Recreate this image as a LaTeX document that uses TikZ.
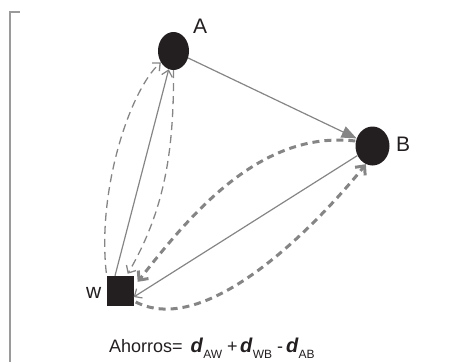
\documentclass[tikz,border=0pt]{standalone}
\usepackage{fontspec}
\setmainfont{Liberation Sans}
\usetikzlibrary{arrows.meta,shapes.geometric,calc}
\definecolor{ln}{HTML}{858585}
\definecolor{nd}{HTML}{231F20}
\definecolor{fr}{HTML}{9A9A9A}
\newcommand\subtxt[1]{\raisebox{-6pt}{\fontsize{12}{12}\selectfont #1}}
\newcommand\dd{{\fontsize{20}{20}\selectfont\textbf{\textit{d}}}}
\begin{document}
\begin{tikzpicture}[x=1pt,y=-1pt,
  dot/.style={ellipse,fill=nd,inner sep=0pt},
  depot/.style={rectangle,fill=nd,inner sep=0pt,minimum width=27pt,minimum height=30pt},
  lbl/.style={font=\fontsize{21}{21}\selectfont,text=nd,inner sep=0pt,anchor=base west},
  solidline/.style={draw=ln,line width=1.2pt},
  barb/.style={-{Straight Barb[length=6pt,width=11pt]}},
  thinarc/.style={draw=ln,line width=1.3pt,dash pattern=on 8pt off 5pt,barb},
  thickarc/.style={draw=ln,line width=3pt,dash pattern=on 7pt off 5pt,-{Straight Barb[length=7pt,width=13pt]}},
  frame/.style={draw=fr,line width=1.5pt}]
\useasboundingbox (0,0) rectangle (471,362);
\coordinate (f1) at (20,12);
\coordinate (f2) at (10,12);
\coordinate (f3) at (10,362);
\draw[frame] (f1) -- (f2) -- (f3);

\node[dot,minimum width=31pt,minimum height=38pt] (A) at (173.5,51) {};
\node[dot,minimum width=34pt,minimum height=39pt] (B) at (372.5,146) {};
\node[depot] (W) at (120,291) {};

\node[lbl] (la) at (193,33) {A};
\node[lbl] (lb) at (396,151) {B};
\node[lbl] (lw) at (86,298) {w};

\node[font=\fontsize{18}{18}\selectfont,text=nd,inner sep=0pt,anchor=base west] (f) at (109,352)
  {Ahorros=\hspace{8pt}\dd\subtxt{AW}\hspace{5pt}+\hspace{2.5pt}\dd\subtxt{WB}\hspace{5pt}-\hspace{3pt}\dd\subtxt{AB}};

% solid arcs
\draw[solidline,-{Triangle[length=15pt,width=12pt]}] (A) -- (B);
\draw[solidline,barb] ($(W.north)+(-5,0)$) -- (A);
\draw[solidline,barb] (B) -- ($(W.east)+(0,6)$);

% thin dashed arcs
\draw[thinarc] ($(W.north west)+(0,-3)$) .. controls (97,190) and (130,90) .. (A.222);
\draw[thinarc] (A.south) .. controls (174,150) and (165,210) .. ($(W.north east)+(-6,-2)$);

% thick dashed arcs
\draw[thickarc] ($(B.west)+(0,-5)$) .. controls (260,130) and (190,215) .. ($(W.north east)+(4,6)$);
\draw[thickarc] ($(W.east)+(2,11)$) .. controls (210,340) and (325,215) .. (B.250);
\end{tikzpicture}
\end{document}
